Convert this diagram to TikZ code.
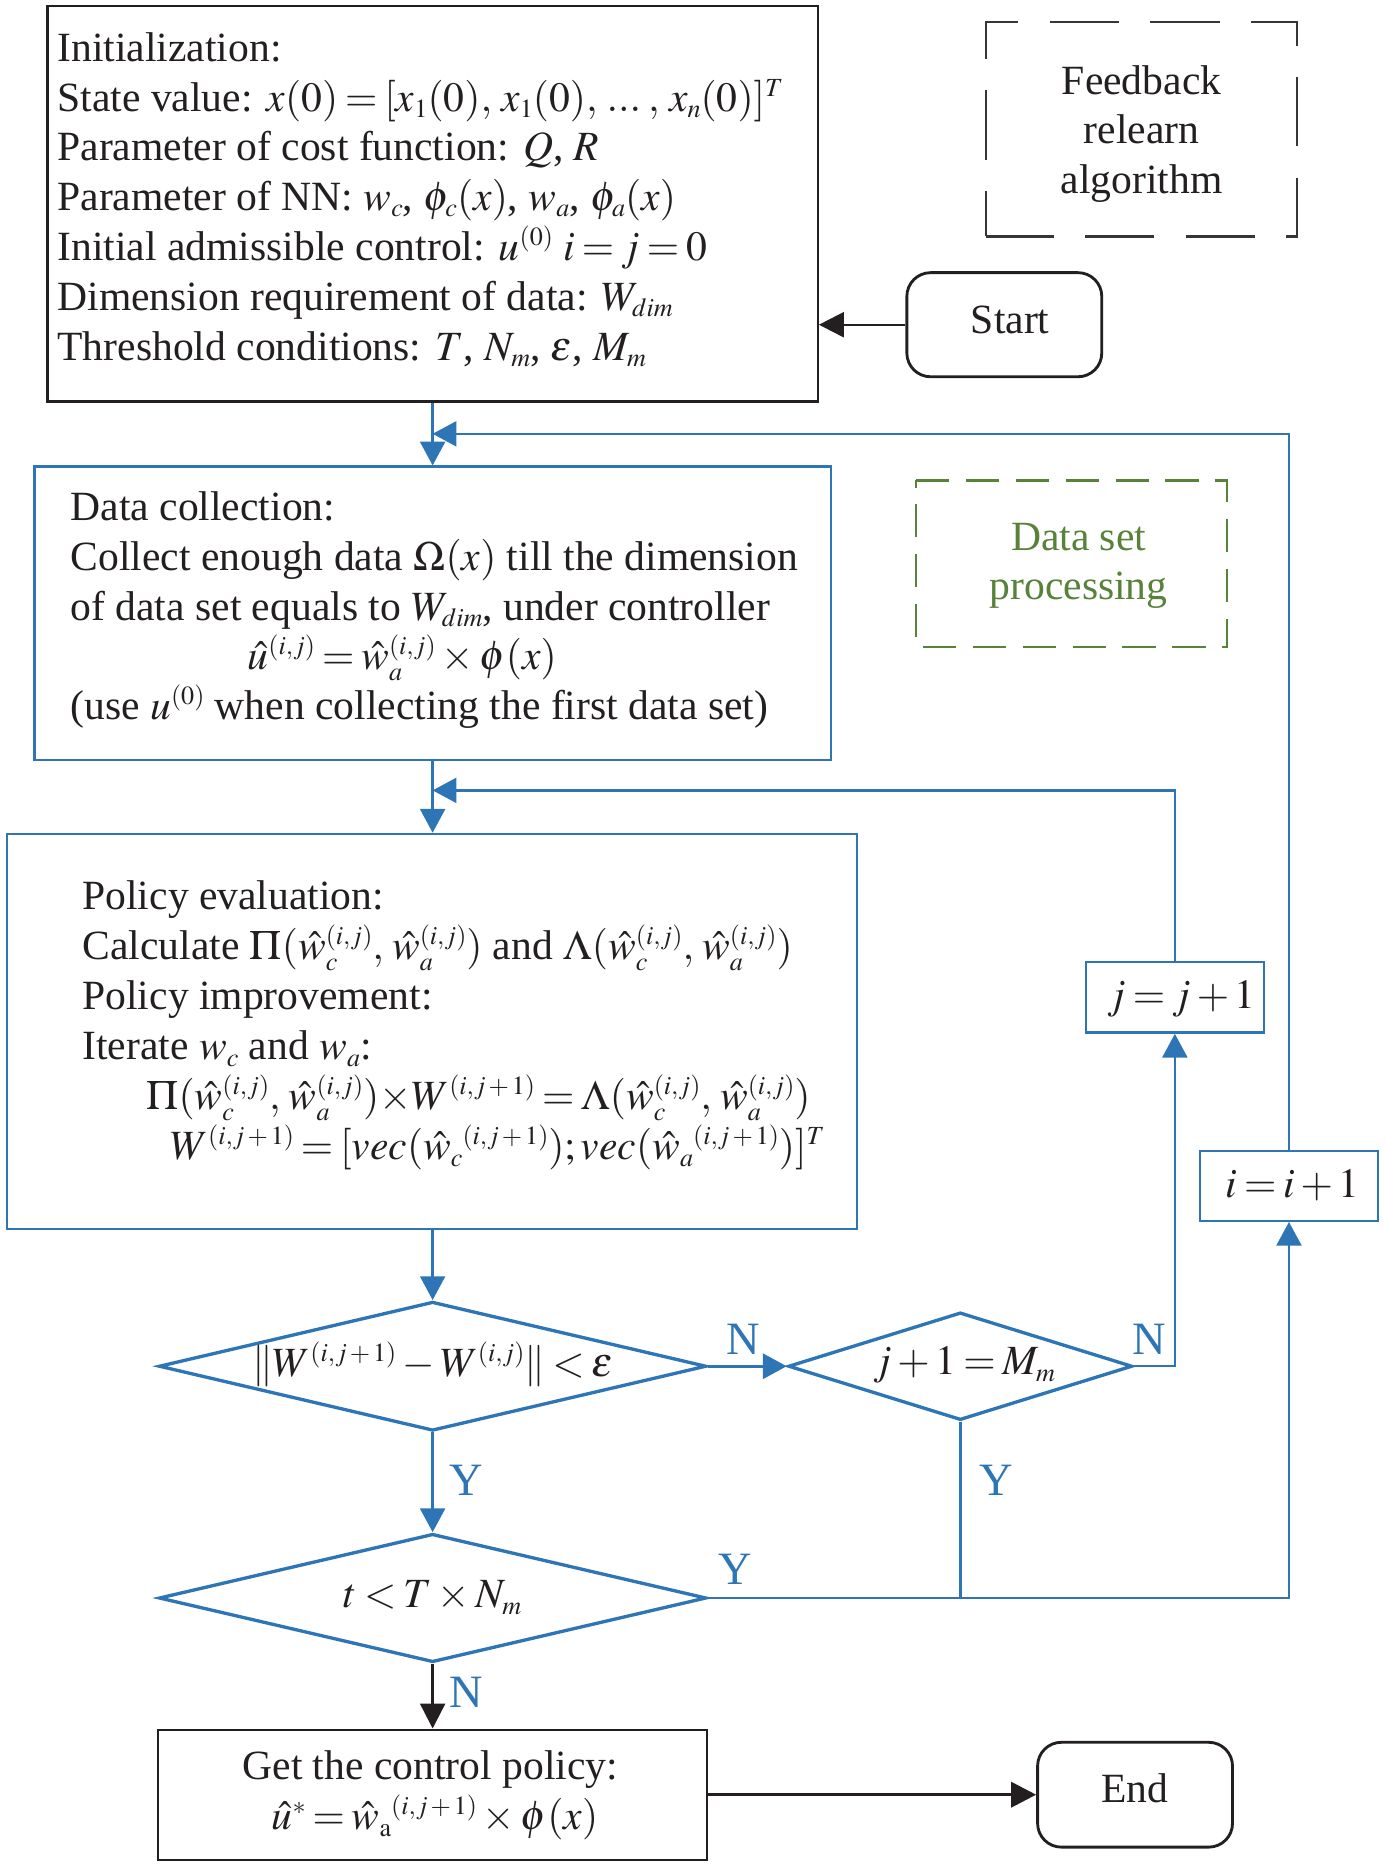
\documentclass[tikz,border=0pt]{standalone}
\usepackage{mathptmx}
\usepackage{fontspec}
\setmainfont{Liberation Serif}
\usetikzlibrary{arrows.meta,shapes.geometric}
\definecolor{fblue}{HTML}{2E75B6}
\definecolor{fgreen}{HTML}{588239}
\definecolor{ink}{HTML}{231F20}
\DeclareMathSizes{17.5}{17.5}{11}{8}
\thickmuskip=3mu plus 2mu
\medmuskip=2.5mu plus 1mu
\scriptspace=0pt
\newcommand{\wh}{\smash{\hat{w}}}
\newcommand{\uh}{\smash{\hat{u}}}
\newcommand{\ijp}{(i,j\mkern2mu{+}\mkern2mu1)}
\begin{document}
\begin{tikzpicture}[x=0.5pt,y=-0.5pt,
  txt/.style={font=\fontsize{17.5}{21}\selectfont, text=ink, inner sep=0pt},
  lab/.style={font=\fontsize{19.5}{22}\selectfont, text=fblue, inner sep=0pt, anchor=base},
  blackbox/.style={draw=ink, line width=1pt, inner sep=0pt},
  bluebox/.style={draw=fblue, line width=1pt, inner sep=0pt},
  term/.style={draw=ink, line width=1.2pt, rounded corners=10pt, inner sep=0pt},
  fbdash/.style={draw=ink!90, line width=1.1pt, dash pattern=on 29.25pt off 13.15pt, dash phase=10.25pt},
  dsdash/.style={draw=fgreen, line width=1.1pt, dash pattern=on 14pt off 7pt},
  dia/.style={diamond, draw=fblue, line width=1.4pt, inner sep=0pt},
  arr/.style={-{Triangle[length=10pt,width=10.5pt]}, draw=fblue, line width=1pt},
  barr/.style={-{Triangle[length=10.5pt,width=10.5pt]}, draw=ink, line width=1pt},
  bline/.style={draw=fblue, line width=1pt}
]
\useasboundingbox (0,0) rectangle (1166,1570);

% ---- boxes ----
\node[blackbox, minimum width=324pt, minimum height=166.4pt] (init) at (364,171.4) {};
\node[inner sep=0pt, minimum width=130.5pt, minimum height=89.8pt] (fb) at (960.5,108.7) {};
\draw[fbdash] (fb.south west) -- (fb.north west) -- (fb.north east) -- (fb.south east) -- cycle;
\node[term, minimum width=82pt, minimum height=43.8pt] (start) at (845,273.2) {};
\node[bluebox, minimum width=335pt, minimum height=123.4pt] (dc) at (364,516) {};
\node[inner sep=0pt, minimum width=130.5pt, minimum height=69.7pt] (ds) at (901.5,474.3) {};
\draw[dsdash] (ds.north west) -- (ds.north east) -- (ds.south east) -- (ds.south west) -- cycle;
\node[bluebox, minimum width=357.5pt, minimum height=166.3pt] (pol) at (363.5,867.9) {};
\node[bluebox, minimum width=74.8pt, minimum height=29.6pt] (jbox) at (988.5,839.2) {};
\node[bluebox, minimum width=75pt, minimum height=29.4pt] (ibox) at (1084.5,997.7) {};
\node[dia, minimum width=230.3pt, minimum height=54.3pt] (d1) at (364,1149.5) {};
\node[dia, minimum width=144.7pt, minimum height=45.3pt] (d2) at (808,1149.5) {};
\node[dia, minimum width=230.3pt, minimum height=54pt] (d3) at (364,1344.5) {};
\node[blackbox, minimum width=231pt, minimum height=54.7pt] (get) at (364,1510) {};
\node[term, minimum width=82pt, minimum height=44.1pt] (end) at (955,1510) {};

% ---- texts ----
\node[txt, anchor=base west] (i1) at (48,52) {Initialization:};
\node[txt, anchor=base west] (i2) at (48,93.5) {State value: $x(0) = [x_1(0),\mkern2mu x_1(0),\mkern2mu {.}{.}{.}\;,\mkern2mu x_n(0)]^T$};
\node[txt, anchor=base west] (i3) at (48,135) {Parameter of cost function: $Q$, $R$};
\node[txt, anchor=base west] (i4) at (48,177) {Parameter of NN: $w_c$, $\phi_c(x)$, $w_a$, $\phi_a(x)$};
\node[txt, anchor=base west] (i5) at (48,219) {Initial admissible control: $u^{(0)}$ $i=j=0$};
\node[txt, anchor=base west] (i6) at (48,261) {Dimension requirement of data: $W_{dim}$};
\node[txt, anchor=base west] (i7) at (48,303) {Threshold conditions: $T$, $N_m$, $\varepsilon$, $M_m$};

\node[txt, anchor=base] (f1) at (960.5,79.4) {Feedback};
\node[txt, anchor=base] (f2) at (960.5,121.1) {relearn};
\node[txt, anchor=base] (f3) at (960.5,162.6) {algorithm};
\node[txt, anchor=base] (st) at (850,280.4) {Start};

\node[txt, anchor=base west] (c1) at (59,438.3) {Data collection:};
\node[txt, anchor=base west] (c2) at (59,480.1) {Collect enough data $\Omega(x)$ till the dimension};
\node[txt, anchor=base west] (c3) at (59,522.1) {of data set equals to $W_{dim}$, under controller};
\node[txt, anchor=base west] (c4) at (208,563.6) {$\uh^{(i,j)} = \wh_a^{(i,j)} \times \phi(x)$};
\node[txt, anchor=base west] (c5) at (59,605.7) {(use $u^{(0)}$ when collecting the first data set)};

\node[txt, anchor=base, text=fgreen] (s1) at (907.5,463.5) {Data set};
\node[txt, anchor=base, text=fgreen] (s2) at (907.5,504.8) {processing};

\node[txt, anchor=base west] (p1) at (69,765.5) {Policy evaluation:};
\node[txt, anchor=base west] (p2) at (69,807.6) {Calculate $\Pi(\wh_c^{(i,j)},\mkern1.5mu \wh_a^{(i,j)})$ and $\Lambda(\wh_c^{(i,j)},\mkern1.5mu \wh_a^{(i,j)})$};
\node[txt, anchor=base west] (p3) at (69,849.7) {Policy improvement:};
\node[txt, anchor=base west] (p4) at (69,891.7) {Iterate $w_c$ and $w_a$:};
\node[txt, anchor=base west] (p5) at (123,933.8) {$\Pi(\wh_c^{(i,j)},\mkern1.5mu \wh_a^{(i,j)}){\times}W^{\ijp} = \Lambda(\wh_c^{(i,j)},\mkern1.5mu \wh_a^{(i,j)})$};
\node[txt, anchor=base west] (p6) at (143,975.9) {$W^{\ijp} = [\mathit{vec}(\wh_c{}^{\ijp}); \mathit{vec}(\wh_a{}^{\ijp})]^T$};

\node[txt, anchor=base] (jt) at (994,848.3) {$j = j + 1$};
\node[txt, anchor=base] (it) at (1087.5,1007.3) {$i = i + 1$};
\node[txt, anchor=base] (d1t) at (364,1158) {$\|W^{\ijp} - W^{(i,j)}\| < \varepsilon$};
\node[txt, anchor=base] (d2t) at (811,1156.7) {$j + 1 = M_m$};
\node[txt, anchor=base] (d3t) at (364,1352.8) {$t < T \times N_m$};
\node[txt, anchor=base] (g1) at (362,1497.5) {Get the control policy:};
\node[txt, anchor=base] (g2) at (366,1539.5) {$\uh{}^{*} = \wh_{\mathrm{a}}{}^{\ijp} \times \phi(x)$};
\node[txt, anchor=base] (et) at (955,1516.8) {End};

% ---- labels ----
\node[lab] (lN1) at (625,1140) {N};
\node[lab] (lN2) at (967,1140) {N};
\node[lab] (lY1) at (392,1258) {Y};
\node[lab] (lY2) at (838,1258) {Y};
\node[lab] (lY3) at (619,1333) {Y};
\node[lab] (lN3) at (392,1437) {N};

% ---- connectors ----
\coordinate (m1) at (364,365);
\coordinate (m2) at (364,665);
\draw[barr] (start.west) -- (start.west -| init.east);
\draw[arr] (init.south) -- (init.south |- dc.north);
\draw[arr] (ibox.north) |- (m1);
\draw[arr] (dc.south) -- (dc.south |- pol.north);
\draw[arr] (jbox.north) |- (m2);
\draw[arr] (pol.south -| d1.north) -- (d1.north);
\draw[arr, line width=1.4pt] (d1.east) -- (d2.west);
\draw[arr] (d2.east) -| (jbox.south);
\draw[arr] (d1.south) -- (d3.north);
\draw[bline] (d2.south) -- (d2.south |- d3.east);
\draw[arr, line width=1.2pt] (d3.east) -| (ibox.south);
\draw[barr] (d3.south) -- (get.north);
\draw[barr, line width=1.5pt] (get.east) -- (end.west);
\end{tikzpicture}
\end{document}
